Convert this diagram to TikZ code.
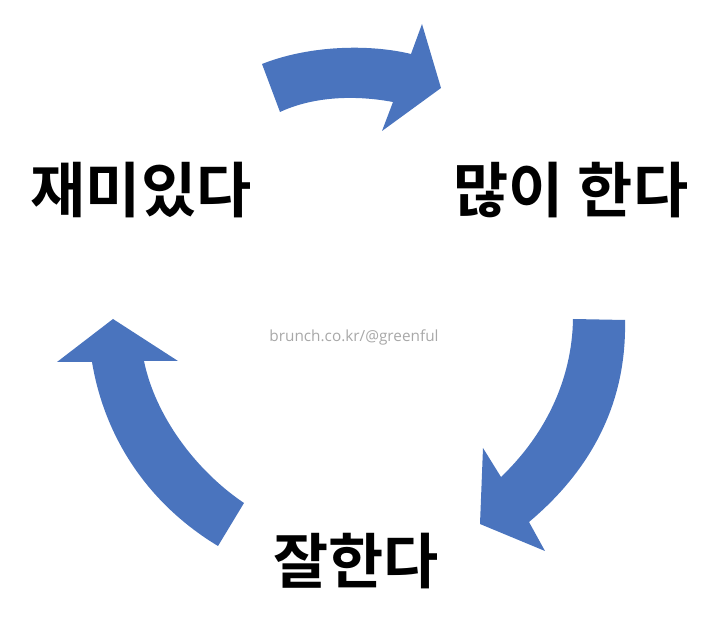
\documentclass[tikz,border=0pt]{standalone}
\usepackage{fontspec}
\newfontfamily\kor{Noto Sans CJK KR Bold}
\newfontfamily\wm{Open Sans}
\definecolor{arrowblue}{RGB}{74,116,190}
\definecolor{wmgrey}{RGB}{168,168,168}
\begin{document}
\begin{tikzpicture}[x=0.75pt,y=-0.75pt,
  blockarrow/.style={fill=arrowblue,draw=none},
  label/.style={font=\kor\fontsize{45}{50}\selectfont,inner sep=0pt,anchor=center}]
\useasboundingbox (0,0) rectangle (708,634);
% top arrow
\fill[blockarrow] (262,64) .. controls (310,45) and (370,44) .. (411,54)
  -- (422,24) -- (441,88) -- (382,131) -- (393,102)
  .. controls (350,94) and (310,98) .. (280,112) -- cycle;
% right arrow
\fill[blockarrow] (625,320) .. controls (627,410) and (585,475) .. (529,522)
  -- (545,551) -- (480,524) -- (483,448) -- (501,477)
  .. controls (545,435) and (572,380) .. (573,319) -- cycle;
% left arrow
\fill[blockarrow] (218,546) .. controls (150,505) and (105,440) .. (92,362)
  -- (57,362) -- (113,319) -- (178,361) -- (144,361)
  .. controls (155,415) and (195,470) .. (244,503) -- cycle;
\node[label] (fun) at (141,190) {재미있다};
\node[label] (much) at (571,190) {많이 한다};
\node[label] (good) at (356,561) {잘한다};
\node[font=\wm\fontsize{11.5}{13}\selectfont,text=wmgrey,inner sep=0pt] (wm) at (354,337) {brunch.co.kr/@greenful};
\end{tikzpicture}
\end{document}
